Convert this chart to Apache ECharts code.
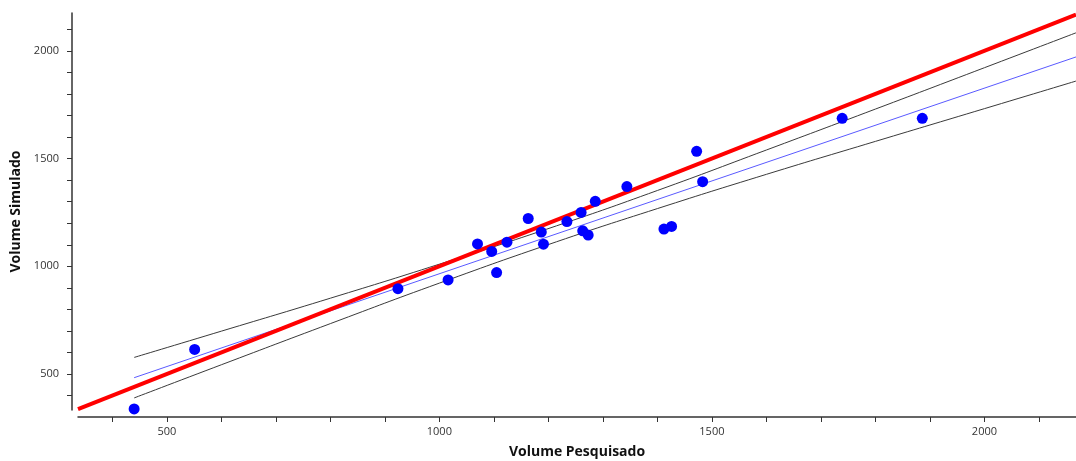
<!DOCTYPE html>
<html>
<head>
<meta charset="utf-8">
<script src="https://cdn.jsdelivr.net/npm/echarts@6/dist/echarts.min.js"></script>
<style>html,body{margin:0;padding:0;background:#fff;}#chart{width:1076px;height:461px;}</style>
</head>
<body>
<div id="chart"></div>
<script>
// Observed points (Volume Pesquisado, Volume Simulado)
var pesquisado = [440, 551, 924, 1016, 1070, 1096, 1105, 1124, 1163, 1187, 1191, 1234, 1260, 1263, 1273, 1286, 1344, 1412, 1426, 1472, 1483, 1739, 1886];
var simulado   = [338, 614, 896, 937, 1104, 1069, 971, 1112, 1222, 1159, 1103, 1208, 1250, 1165, 1145, 1302, 1370, 1173, 1185, 1534, 1393, 1687, 1687];

// Reference line y = x (red), endpoints
var refLineX = [337, 2168];
var refLineY = [337, 2168];

// Fitted regression line (blue), endpoints
var fitX = [440, 2168];
var fitY = [483, 1972];

// Band lines (black)
var bandX     = [440, 600, 800, 1000, 1215, 1400, 1600, 1800, 2000, 2168];
var bandUpper = [577, 699, 852, 1010, 1188, 1352, 1540, 1730, 1922, 2084];
var bandLower = [389, 543, 734, 922, 1114, 1268, 1427, 1580, 1732, 1860];

// Axis ticks
var xTickLabels = [500, 1000, 1500, 2000];
var yTickLabels = [500, 1000, 1500, 2000];
var xMinorTicks = [400, 500, 600, 700, 800, 900, 1000, 1100, 1200, 1300, 1400, 1500, 1600, 1700, 1800, 1900, 2000, 2100];
var yMinorTicks = [400, 500, 600, 700, 800, 900, 1000, 1100, 1200, 1300, 1400, 1500, 1600, 1700, 1800, 1900, 2000, 2100];

function zip(a, b) { return a.map(function (v, i) { return [v, b[i]]; }); }

var chart = echarts.init(document.getElementById('chart'), null, {renderer: 'canvas'});
var axisColor = '#333333';
var font = '"Open Sans", "DejaVu Sans", sans-serif';
function plain(v) { return String(v); }

chart.setOption({
  animation: false,
  backgroundColor: '#ffffff',
  grid: {left: 78, right: 0, top: 13, bottom: 51, containLabel: false, outerBoundsMode: 'none'},
  xAxis: {
    type: 'value', min: 337, max: 2168, offset: 7,
    name: 'Volume Pesquisado', nameLocation: 'middle', nameGap: 28,
    nameTextStyle: {fontFamily: font, fontWeight: 'bold', fontSize: 14, color: '#111'},
    axisLine: {show: true, lineStyle: {color: axisColor, width: 1.5}},
    axisTick: {show: true, length: 5, customValues: xMinorTicks, lineStyle: {color: axisColor}},
    axisLabel: {customValues: xTickLabels, formatter: plain, margin: 9, fontFamily: font, fontSize: 11, color: '#333'},
    splitLine: {show: false}
  },
  yAxis: {
    type: 'value', min: 333, max: 2176, offset: 6,
    name: 'Volume Simulado', nameLocation: 'middle', nameGap: 43,
    nameTextStyle: {fontFamily: font, fontWeight: 'bold', fontSize: 14, color: '#111'},
    axisLine: {show: true, lineStyle: {color: axisColor, width: 1.5}},
    axisTick: {show: true, length: 5, customValues: yMinorTicks, lineStyle: {color: axisColor}},
    axisLabel: {customValues: yTickLabels, formatter: plain, margin: 13, fontFamily: font, fontSize: 11, color: '#333'},
    splitLine: {show: false}
  },
  series: [
    {type: 'line', data: zip(bandX, bandUpper), smooth: true, symbol: 'none', clip: false, z: 2,
     lineStyle: {color: '#3a3a3a', width: 1}},
    {type: 'line', data: zip(bandX, bandLower), smooth: true, symbol: 'none', clip: false, z: 2,
     lineStyle: {color: '#3a3a3a', width: 1}},
    {type: 'line', data: zip(fitX, fitY), symbol: 'none', clip: false, z: 3,
     lineStyle: {color: '#5a5aff', width: 1}},
    {type: 'line', data: zip(refLineX, refLineY), symbol: 'none', clip: false, z: 4,
     lineStyle: {color: '#ff0000', width: 4}},
    {type: 'scatter', data: zip(pesquisado, simulado), symbol: 'circle', symbolSize: 11, clip: false, z: 5,
     itemStyle: {color: '#0000ff', opacity: 1}}
  ]
});
</script>
</body>
</html>
